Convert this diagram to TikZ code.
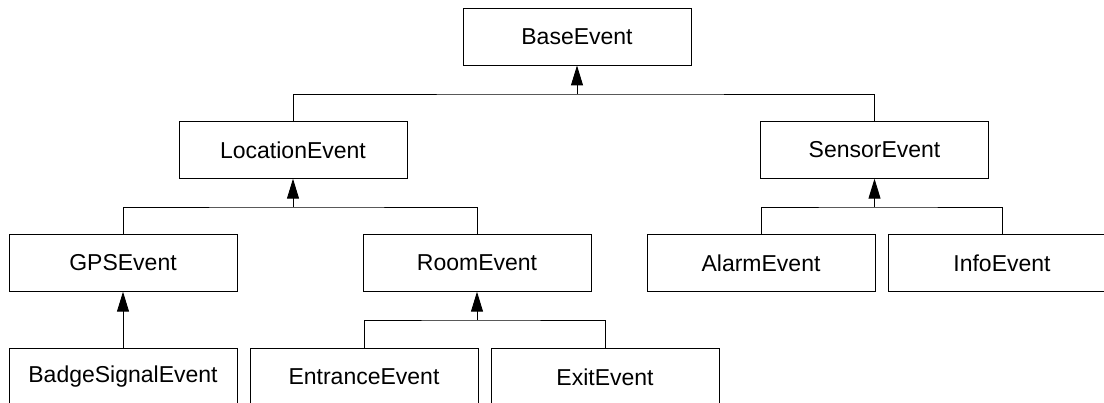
\documentclass[tikz,border=0pt]{standalone}
\usepackage{fontspec}
\setmainfont{Liberation Sans}
\usetikzlibrary{arrows.meta}
\begin{document}
\begin{tikzpicture}[x=1pt,y=-1pt,line width=0.9pt,
    cls/.style={draw,inner sep=0pt,minimum width=228pt,minimum height=56.5pt,
      font=\fontsize{23}{27}\selectfont},
    inh/.style={-{Triangle[length=20pt,width=12pt]}}]
      \useasboundingbox (0,0) rectangle (1104,403);
      \clip (0,0) rectangle (1104,403);
      \draw
        (577,36.75) node[cls] (base){BaseEvent}
        (293,150) node[cls] (loc){LocationEvent}
        (874.5,150) node[cls] (sen){SensorEvent}
        (123,263) node[cls] (gps){GPSEvent}
        (477,263) node[cls] (room){RoomEvent}
        (761,263) node[cls] (alarm){AlarmEvent}
        (1002,263) node[cls] (info){InfoEvent}
        (123,377) node[cls] (badge){BadgeSignalEvent}
        (364,377) node[cls] (entr){EntranceEvent}
        (605,377) node[cls] (exit){ExitEvent};
      \coordinate (jbase) at (577,94);
      \coordinate (jloc) at (293,207);
      \coordinate (jsen) at (874.5,207);
      \coordinate (jroom) at (477,320);
      \begin{scope}[-]
        \draw (loc.north) |- (jbase) -| (sen.north);
        \draw (gps.north) |- (jloc) -| (room.north);
        \draw (alarm.north) |- (jsen) -| (info.north);
        \draw (entr.north) |- (jroom) -| (exit.north);
      \end{scope}
      \begin{scope}[inh]
        \draw (jbase) to (base.south);
        \draw (jloc) to (loc.south);
        \draw (jsen) to (sen.south);
        \draw (jroom) to (room.south);
        \draw (badge.north) to (gps.south);
      \end{scope}
    \end{tikzpicture}
\end{document}
